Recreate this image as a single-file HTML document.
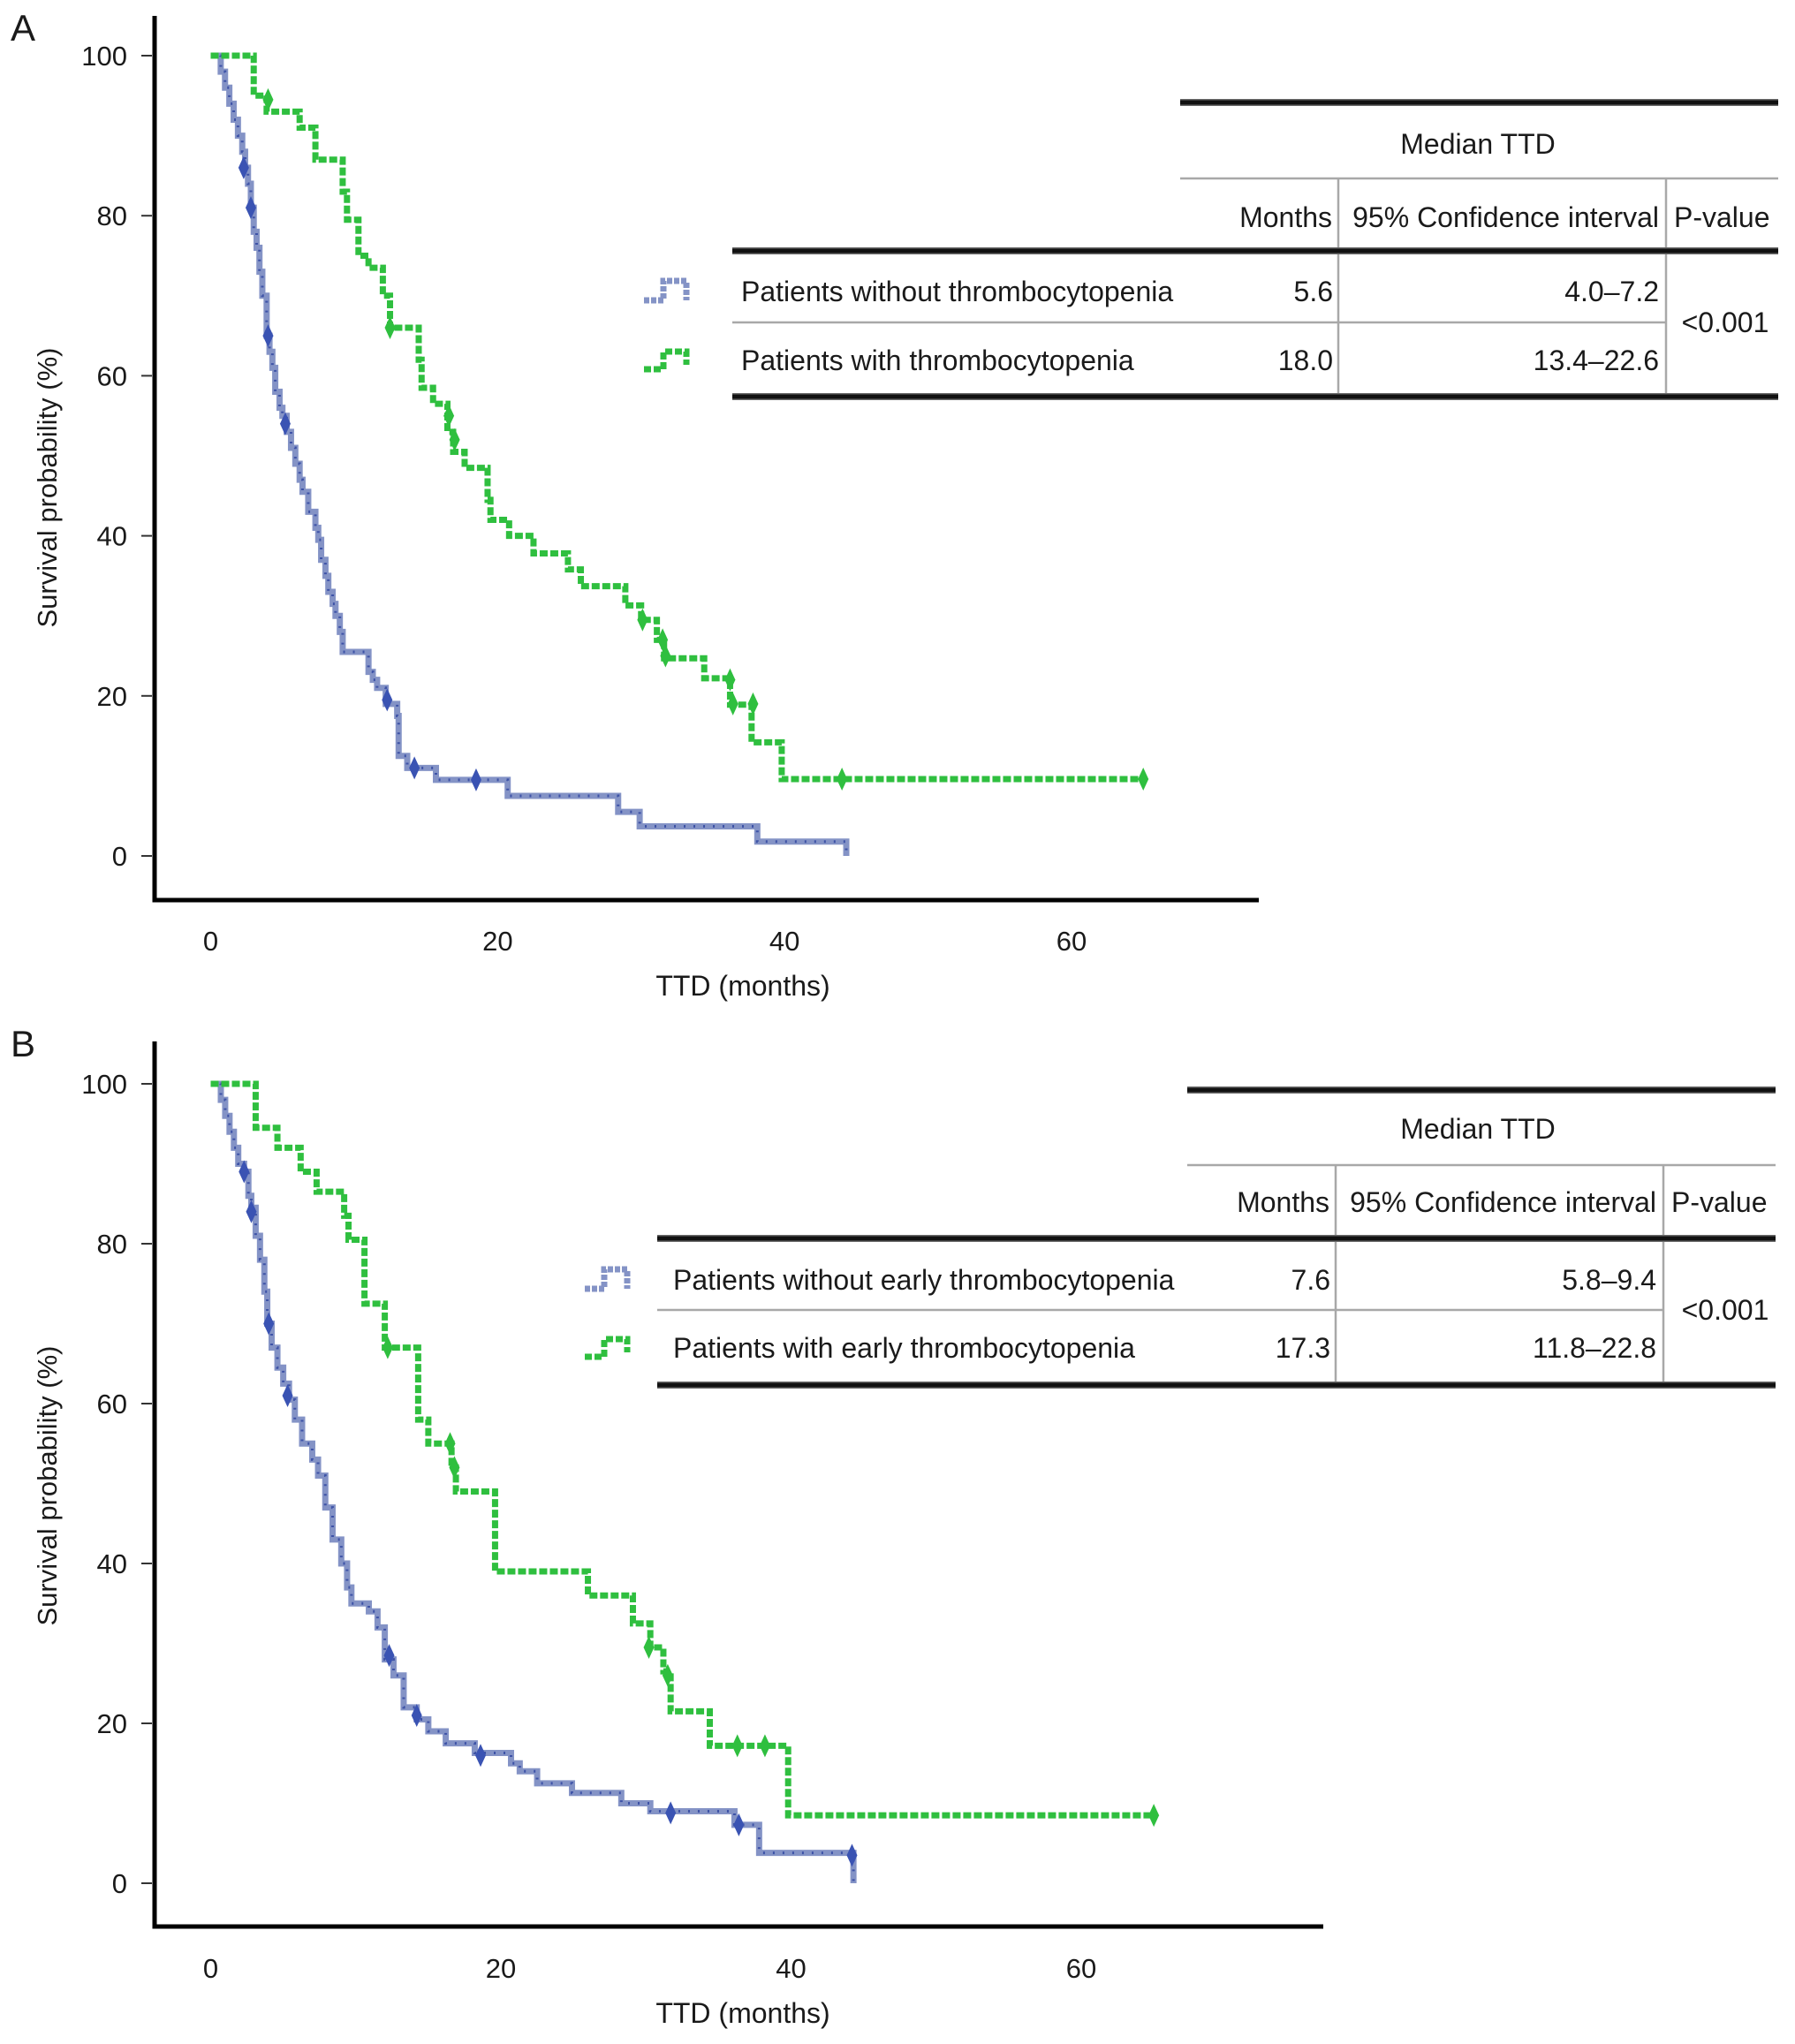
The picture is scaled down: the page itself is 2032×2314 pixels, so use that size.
<!DOCTYPE html>
<html><head><meta charset="utf-8">
<style>
html,body{margin:0;padding:0;background:#fff;}
svg{display:block;}
text{font-family:"Liberation Sans",sans-serif;fill:#1a1a1a;}
</style></head>
<body>
<svg id="fig" width="2032" height="2314" viewBox="0 0 2032 2314" xmlns="http://www.w3.org/2000/svg">
</svg>
<script>
// ---------- DATA ----------
const yTicks = [0, 20, 40, 60, 80, 100];
const xTicks = [0, 20, 40, 60];
// Panel A, without thrombocytopenia (blue): step times (months) and survival (%) after each step
const aBlueT = [0.7,1.0,1.3,1.6,1.9,2.2,2.4,2.6,2.8,3.0,3.2,3.4,3.6,3.9,4.1,4.3,4.5,4.8,5.0,5.3,5.6,5.9,6.2,6.4,6.8,7.3,7.5,7.7,8.0,8.2,8.5,8.7,9.0,9.2,11.0,11.3,11.6,12.2,13.0,13.1,13.7,15.7,20.7,28.4,29.9,38.1,44.3];
const aBlueS = [98,96,94,92,90,88,86,84,81,78,76,73,70,65,63,61,58,56,55,53,51,49,47,45.5,43,41,39.5,37,35,33,31.5,30,28,25.5,23,22,21,19,17.5,12.5,11,9.5,7.5,5.5,3.7,1.8,0];
const aBlueCensT = [2.3,2.8,4.0,5.2,12.3,14.2,18.5];
const aBlueCensS = [86,81,65,54,19.5,11,9.5];
// Panel A, with thrombocytopenia (green)
const aGreenT = [3.0,3.9,6.2,7.3,9.2,9.5,10.3,11.0,12.0,12.5,14.5,14.7,15.5,16.5,16.9,17.7,19.3,19.5,20.8,22.5,24.9,25.8,28.9,30.0,31.1,31.6,34.4,36.2,37.7,39.8];
const aGreenS = [95,93,91,87,83,79.5,75,73.5,70,66,62,58.5,56.5,53,50.5,48.5,44.5,42,40,37.8,35.8,33.7,31.3,29.5,27,24.7,22.2,18.9,14.2,9.6];
const aGreenEnd = 65;
const aGreenCensT = [4.0,12.5,16.6,17.0,30.1,31.5,31.7,36.2,36.4,37.8,44.0,65];
const aGreenCensS = [94.5,66,55,52,29.5,27,25,22,19,19,9.6,9.6];
// Panel B, without early thrombocytopenia (blue)
const bBlueT = [0.7,1.0,1.3,1.6,1.9,2.3,2.6,2.8,3.1,3.4,3.7,3.9,4.2,4.6,5.0,5.4,5.8,6.3,7.0,7.4,7.9,8.4,9.0,9.4,9.7,10.9,11.5,12.0,12.6,13.3,14.2,15.0,16.2,18.2,20.7,21.3,22.5,24.9,28.3,30.3,36.1,37.8,44.3];
const bBlueS = [98,96,94,92,90,89,86,84.5,81,78,74,70,67,64.5,62.5,60.5,58,55,53,51,47,43,40,37,35,34,32,28,26,22,20.5,19,17.5,16.3,15,14,12.5,11.3,10,9,7.3,3.8,0];
const bBlueCensT = [2.3,2.8,4.0,5.3,12.3,14.2,18.6,31.7,36.4,44.2];
const bBlueCensS = [89,84,70,61,28.5,21,16,8.8,7.3,3.5];
// Panel B, with early thrombocytopenia (green)
const bGreenT = [3.1,4.6,6.2,7.3,9.2,9.5,10.6,12.0,14.3,15.0,16.6,16.9,19.6,26.0,29.1,30.3,31.2,31.7,34.4,39.8];
const bGreenS = [94.5,92,89,86.5,83.5,80.5,72.5,67,58,55,52,49,39,36,32.5,29.5,26.5,21.5,17.2,8.5];
const bGreenEnd = 65;
const bGreenCensT = [12.2,16.5,16.8,30.2,31.5,36.3,38.2,65];
const bGreenCensS = [67,55,52,29.5,26,17.2,17.2,8.5];

// ---------- DRAW ----------
const NS = "http://www.w3.org/2000/svg";
const svg = document.getElementById("fig");
function mk(tag, attrs, parent, txt){
  const e = document.createElementNS(NS, tag);
  for (const k in attrs) e.setAttribute(k, attrs[k]);
  if (txt !== undefined) e.textContent = txt;
  (parent || svg).appendChild(e);
  return e;
}
const BLUE_LINE = "#8493c6", BLUE_DOT = "#3d52a6", BLUE_MARK = "#3a53b3";
const GREEN = "#2fbf3f";

function panel(p){
  const g = mk("g", {});
  
  
  const X = t => p.x0 + t * p.ppm;
  const Y = s => p.y0 - s * p.ppu;
  const L = mk("text", {x: 12, y: p.letterY, "font-size": 42}, g, p.letter);
  
  
  const ya = mk("line", {x1: 175, y1: p.axTop, x2: 175, y2: p.axBot + 2.5, stroke: "#000", "stroke-width": 5}, g);
  
  
  const xa = mk("line", {x1: 173, y1: p.axBot, x2: p.axRight, y2: p.axBot, stroke: "#000", "stroke-width": 5}, g);
  
  
  yTicks.forEach(v => {
    const tk = mk("line", {x1: 160, y1: Y(v), x2: 172, y2: Y(v), stroke: "#333", "stroke-width": 2}, g);
    
    
    const tl = mk("text", {x: 144, y: Y(v) + 11, "font-size": 31, "text-anchor": "end"}, g, String(v));
    
    
  });
  xTicks.forEach(v => {
    const tl = mk("text", {x: X(v), y: p.xLabY, "font-size": 31, "text-anchor": "middle"}, g, String(v));
    
    
  });
  const xt = mk("text", {x: 841, y: p.xTitleY, "font-size": 32, "text-anchor": "middle"}, g, "TTD (months)");
  
  
  const yt = mk("text", {x: 0, y: 0, "font-size": 31, "text-anchor": "middle", transform: `translate(64,${p.yTitleC}) rotate(-90)`}, g, "Survival probability (%)");
  
  

  function stepPath(T, S, end){
    let d = `M${X(0)},${Y(100)}`;
    for (let i = 0; i < T.length; i++){
      d += ` H${X(T[i])} V${Y(S[i])}`;
    }
    if (end !== undefined) d += ` H${X(end)}`;
    return d;
  }
  const bd = stepPath(p.blueT, p.blueS);
  const b1 = mk("path", {d: bd, fill: "none", stroke: BLUE_LINE, "stroke-width": 7}, g);
  
  
  const b2 = mk("path", {d: bd, fill: "none", stroke: BLUE_DOT, "stroke-width": 3, "stroke-dasharray": "2 9"}, g);
  
  
  const gd = stepPath(p.greenT, p.greenS, p.greenEnd);
  const g1 = mk("path", {d: gd, fill: "none", stroke: GREEN, "stroke-width": 7, "stroke-dasharray": "9 3"}, g);
  
  
  function diamonds(T, S, col, nm){
    T.forEach((t, i) => {
      const cx = X(t), cy = Y(S[i]);
      const m = mk("polygon", {points: `${cx},${cy-13} ${cx+6},${cy} ${cx},${cy+13} ${cx-6},${cy}`, fill: col}, g);
      
      
    });
  }
  diamonds(p.blueCT, p.blueCS, BLUE_MARK, 'censor-mark-blue');
  diamonds(p.greenCT, p.greenCS, GREEN, 'censor-mark-green');

  const t = p.tb;
  const tg = mk("g", {}, g);
  
  
  function thick(x1, x2, y){
    mk("rect", {x: x1, y: y - 4, width: x2 - x1, height: 8, fill: "#6a6a6a"}, tg);
    mk("rect", {x: x1, y: y - 2.5, width: x2 - x1, height: 5, fill: "#111"}, tg);
  }
  function thin(x1, y1, x2, y2){ mk("line", {x1, y1, x2, y2, stroke: "#a8a8a8", "stroke-width": 2.5}, tg); }
  thick(t.topL, t.R, t.top);
  thin(t.topL, t.thin1, t.R, t.thin1);
  thin(t.d1, t.thin1, t.d1, t.bot);
  thin(t.d2, t.thin1, t.d2, t.bot);
  thick(t.L, t.R, t.hdrLine);
  thin(t.L, t.thin2, t.d2, t.thin2);
  thick(t.L, t.R, t.bot);
  const fs = 32;
  const tx = (x, y, s, anchor, nm) => {
    const e = mk("text", {x, y: y + 11, "font-size": fs, "text-anchor": anchor}, tg, s);
    
    
  };
  tx(1673, t.medY, "Median TTD", "middle", 'header-median-ttd');
  tx(t.d1 - 7, t.hdrY, "Months", "end", 'header-months');
  tx(t.d2 - 8, t.hdrY, "95% Confidence interval", "end", 'header-ci');
  tx(t.d2 + 9, t.hdrY, "P-value", "start", 'header-p-value');
  tx(t.textX, t.r1, t.lab1, "start", 'row-label-without');
  tx(t.textX, t.r2, t.lab2, "start", 'row-label-with');
  tx(t.d1 - 6, t.r1, t.m1, "end", 'months-without');
  tx(t.d1 - 6, t.r2, t.m2, "end", 'months-with');
  tx(t.d2 - 8, t.r1, t.ci1, "end", 'ci-without');
  tx(t.d2 - 8, t.r2, t.ci2, "end", 'ci-with');
  tx(1953, t.thin2, "<0.001", "middle", 'p-value');
  const ic1 = mk("path", {d: `M${t.icX},${t.r1+10} H${t.icX+22} V${t.r1-12} H${t.icX+48} V${t.r1+10}`, fill: "none", stroke: BLUE_LINE, "stroke-width": 7, "stroke-dasharray": "6 2"}, tg);
  
  
  const ic2 = mk("path", {d: `M${t.icX},${t.r2+10} H${t.icX+22} V${t.r2-10} H${t.icX+48} V${t.r2+5}`, fill: "none", stroke: GREEN, "stroke-width": 7, "stroke-dasharray": "8 3"}, tg);
  
  
}

panel({name: "panel-a", letter: "A", letterY: 46, x0: 238.5, ppm: (1213 - 238.5) / 60, y0: 969, ppu: 9.06,
  axTop: 18, axBot: 1019, axRight: 1425, xLabY: 1076, xTitleY: 1127, yTitleC: 552,
  blueT: aBlueT, blueS: aBlueS, greenT: aGreenT, greenS: aGreenS, greenEnd: aGreenEnd,
  blueCT: aBlueCensT, blueCS: aBlueCensS, greenCT: aGreenCensT, greenCS: aGreenCensS,
  tb: {topL: 1336, L: 829, R: 2013, top: 116, medY: 163, thin1: 202, hdrY: 246, hdrLine: 284, r1: 330, thin2: 365, r2: 408, bot: 449,
       d1: 1515, d2: 1886, textX: 839, icX: 729,
       lab1: "Patients without thrombocytopenia", lab2: "Patients with thrombocytopenia",
       m1: "5.6", m2: "18.0", ci1: "4.0–7.2", ci2: "13.4–22.6"}});

panel({name: "panel-b", letter: "B", letterY: 1196, x0: 238.5, ppm: (1224 - 238.5) / 60, y0: 2132, ppu: 9.05,
  axTop: 1179, axBot: 2181, axRight: 1498, xLabY: 2239, xTitleY: 2290, yTitleC: 1682,
  blueT: bBlueT, blueS: bBlueS, greenT: bGreenT, greenS: bGreenS, greenEnd: bGreenEnd,
  blueCT: bBlueCensT, blueCS: bBlueCensS, greenCT: bGreenCensT, greenCS: bGreenCensS,
  tb: {topL: 1344, L: 744, R: 2010, top: 1234, medY: 1278, thin1: 1319, hdrY: 1361, hdrLine: 1402, r1: 1449, thin2: 1483, r2: 1526, bot: 1568,
       d1: 1512, d2: 1883, textX: 762, icX: 662,
       lab1: "Patients without early thrombocytopenia", lab2: "Patients with early thrombocytopenia",
       m1: "7.6", m2: "17.3", ci1: "5.8–9.4", ci2: "11.8–22.8"}});
</script>
</body></html>
